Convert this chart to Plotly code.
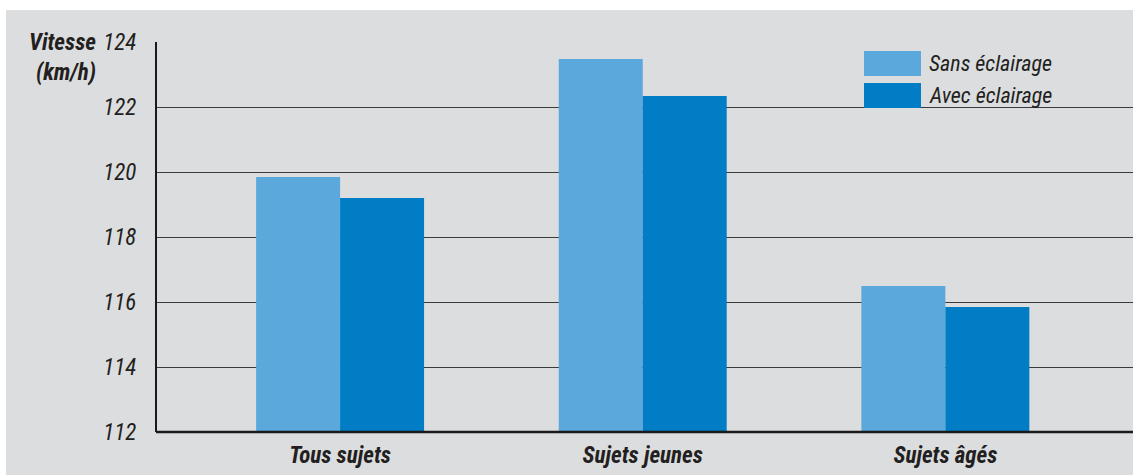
import plotly.graph_objects as go

categories = ["Tous sujets", "Sujets jeunes", "Sujets âgés"]
sans_eclairage = [119.85, 123.48, 116.49]
avec_eclairage = [119.2, 122.34, 115.85]
series_names = ["Sans éclairage", "Avec éclairage"]
y_ticks = [112, 114, 116, 118, 120, 122, 124]

W, H = 1133, 475
ML, MR, MT, MB = 157, 0, 42, 43
PW, PH = W - ML - MR, H - MT - MB

LIGHT = "#5ba8dc"
DARK = "#007dc5"
BG = "#dcdddf"
TXT = "#231f20"
FONT = "Liberation Sans Narrow, Roboto Condensed, Arial Narrow, sans-serif"

def px(x):
    return (x - ML) / PW

def py(y):
    return (H - MB - y) / PH

fig = go.Figure()
fig.add_trace(go.Bar(x=list(range(len(categories))), y=sans_eclairage, name=series_names[0],
                     marker=dict(color=LIGHT, line=dict(width=0))))
fig.add_trace(go.Bar(x=list(range(len(categories))), y=avec_eclairage, name=series_names[1],
                     marker=dict(color=DARK, line=dict(width=0))))

shapes = [
    dict(type="rect", xref="paper", yref="paper", x0=px(0), x1=px(W), y0=py(10), y1=py(0),
         fillcolor="white", line=dict(width=0), layer="above"),
    dict(type="rect", xref="paper", yref="paper", x0=px(0), x1=px(6), y0=py(H), y1=py(0),
         fillcolor="white", line=dict(width=0), layer="above"),
]
annotations = []
leg_items = [(series_names[0], LIGHT, 51), (series_names[1], DARK, 83)]
for name, col, top in leg_items:
    shapes.append(dict(type="rect", xref="paper", yref="paper", x0=px(864), x1=px(921),
                       y0=py(top + 25), y1=py(top), fillcolor=col, line=dict(width=0), layer="above"))
    annotations.append(dict(xref="paper", yref="paper", x=px(927), y=py(top + 12.5),
                            text="<i>" + name + "</i>",
                            showarrow=False, xanchor="left", yanchor="middle",
                            font=dict(family=FONT, size=22, color=TXT)))
annotations.append(dict(xref="paper", yref="paper", x=px(98), y=py(58),
                        text="<b><i>Vitesse</i></b><br><b><i>(km/h)</i></b>", showarrow=False,
                        xanchor="right", yanchor="middle", align="right",
                        font=dict(family=FONT, size=23, color=TXT)))

fig.update_layout(
    width=W, height=H,
    margin=dict(l=ML, r=MR, t=MT, b=MB, pad=0),
    paper_bgcolor=BG, plot_bgcolor=BG,
    barmode="group", bargap=0.445, bargroupgap=0,
    showlegend=False,
    shapes=shapes, annotations=annotations,
    xaxis=dict(range=[-0.605, 2.62], tickvals=list(range(len(categories))),
               ticktext=["<b><i>" + c + "</i></b>" for c in categories],
               showgrid=False, zeroline=False, showline=False, ticks="", ticklabelstandoff=7,
               tickfont=dict(family=FONT, size=23, color=TXT)),
    yaxis=dict(range=[112, 124], tickvals=y_ticks, ticktext=["<i>" + str(v) + "</i>" for v in y_ticks],
               showgrid=True, gridcolor="#3a3a3a", gridwidth=1, zeroline=False,
               showline=True, linecolor="#1a1a1a", linewidth=2, ticks="", ticklabelstandoff=14,
               tickfont=dict(family=FONT, size=23, color=TXT)),
)
fig.add_shape(type="line", xref="paper", yref="paper", x0=px(156), x1=1, y0=0, y1=0,
              line=dict(color="#1a1a1a", width=2.5), layer="above")

fig.write_html("out.html")
